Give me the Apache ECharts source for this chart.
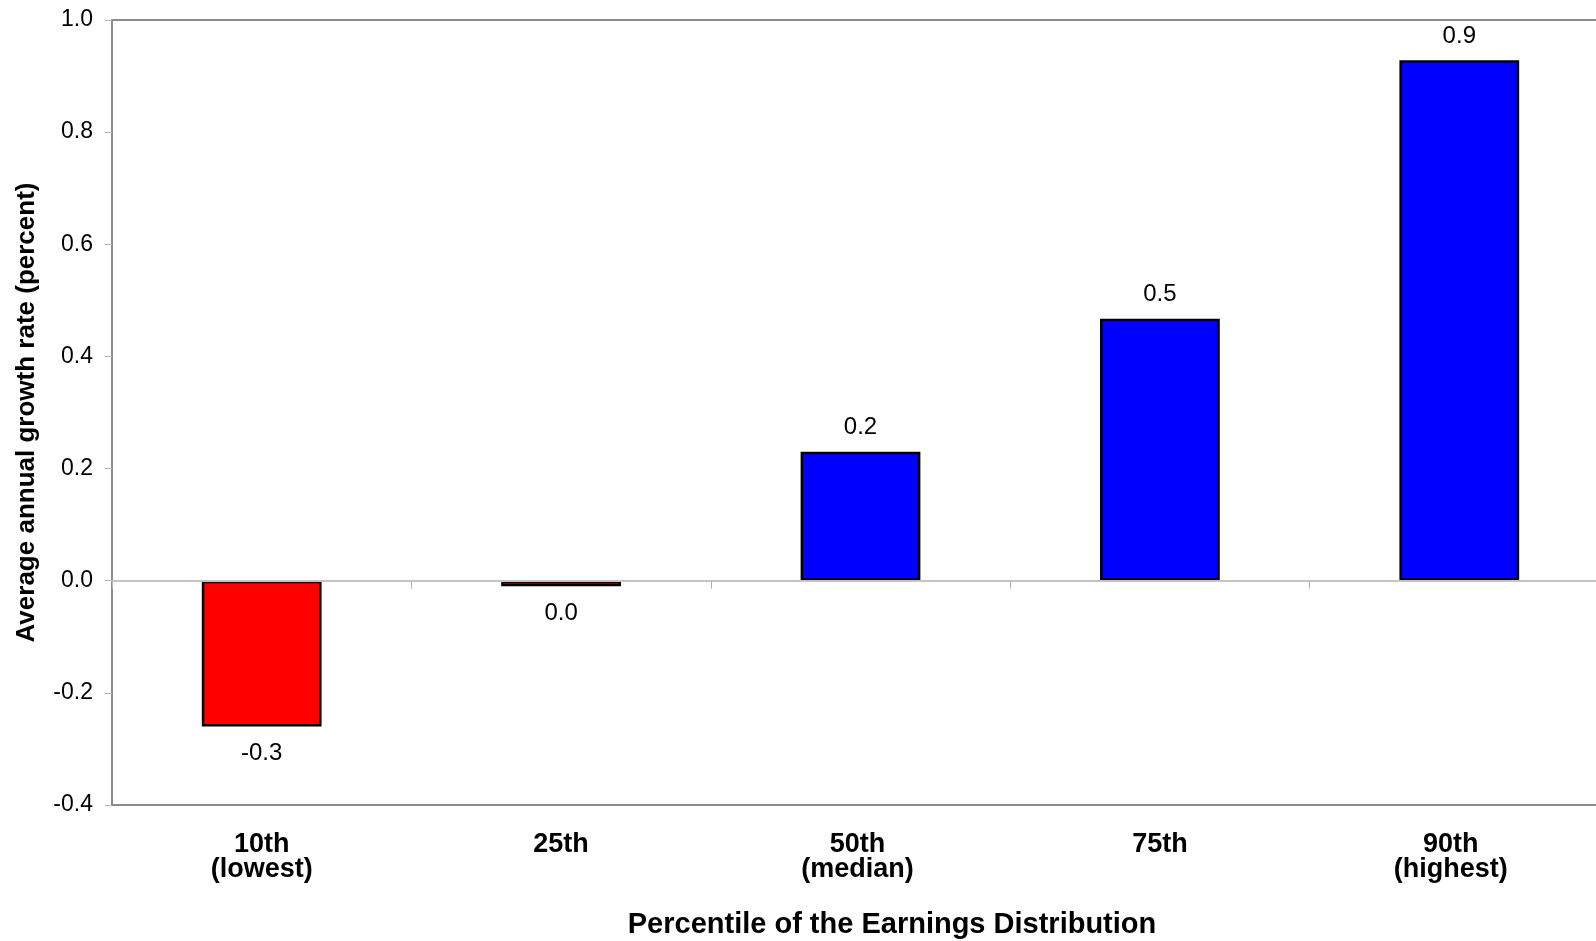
<!DOCTYPE html>
<html>
<head>
<meta charset="utf-8">
<script src="https://cdn.jsdelivr.net/npm/echarts@6/dist/echarts.min.js"></script>
<style>
  html, body { margin: 0; padding: 0; background: #ffffff; }
  #chart { width: 1596px; height: 941px; }
</style>
</head>
<body>
<div id="chart"></div>
<script>
// Average annual earnings growth by percentile
const categories = ['10th\n(lowest)', '25th', '50th\n(median)', '75th', '90th\n(highest)'];
const growthRates = [-0.26, -0.01, 0.23, 0.467, 0.928];
const yTicks = { min: -0.4, max: 1.0, interval: 0.2 };
// small horizontal nudges of the category captions (px, negative = left)
const captionShift = [0, 0, -6, 0, -17];

const FONT = '"Liberation Sans", Arial, Helvetica, sans-serif';

function fmt(v) {
  let s = v.toFixed(1);
  if (s === '-0.0') s = '0.0';
  return s;
}

const chart = echarts.init(document.getElementById('chart'), null, { renderer: 'canvas' });

chart.setOption({
  animation: false,
  backgroundColor: '#ffffff',
  textStyle: { fontFamily: FONT },
  grid: {
    left: 112, top: 20, width: 1497, bottom: 136,
    outerBoundsMode: 'none',
    containLabel: false,
    show: true, borderColor: '#8c8c8c', borderWidth: 2, backgroundColor: 'transparent'
  },
  xAxis: [
    {
      type: 'category',
      data: categories.map((c, i) => ({
        value: c,
        textStyle: { padding: captionShift[i] < 0 ? [0, -captionShift[i], 0, 0] : [0, 0, 0, captionShift[i]] }
      })),
      position: 'bottom',
      axisLine: { show: false, onZero: false },
      axisTick: { show: false },
      axisLabel: {
        interval: 0, margin: 27, color: '#000', fontFamily: FONT,
        fontSize: 27, fontWeight: 'bold', lineHeight: 25
      },
      splitLine: { show: false }
    },
    {
      type: 'category',
      data: categories,
      position: 'bottom',
      z: 5,
      axisLine: { show: true, onZero: true, lineStyle: { color: '#c4c4c4', width: 2 } },
      axisTick: { show: true, interval: 0, length: 8, lineStyle: { color: '#b4b4b4', width: 1 } },
      axisLabel: { show: false },
      splitLine: { show: false }
    }
  ],
  yAxis: {
    type: 'value',
    min: yTicks.min, max: yTicks.max, interval: yTicks.interval,
    name: 'Average annual growth rate (percent)',
    nameLocation: 'middle',
    nameGap: 72,
    nameTextStyle: { color: '#000', fontFamily: FONT, fontSize: 26, fontWeight: 'bold' },
    axisLine: { show: true, lineStyle: { color: '#8c8c8c', width: 2 } },
    axisTick: { show: true, length: 7, lineStyle: { color: '#b4b4b4', width: 1 } },
    axisLabel: {
      margin: 19, color: '#000', fontFamily: FONT, fontSize: 23,
      formatter: v => v.toFixed(1)
    },
    splitLine: { show: false }
  },
  series: [{
    type: 'bar',
    xAxisIndex: 0,
    barWidth: '40%',
    data: growthRates.map(v => ({
      value: v,
      itemStyle: { color: v < 0 ? '#ff0000' : '#0000ff' },
      label: { position: v < 0 ? 'bottom' : 'top', distance: v < 0 ? 15 : 12 }
    })),
    itemStyle: { borderColor: '#000000', borderWidth: 2.5 },
    label: {
      show: true, color: '#000', fontFamily: FONT, fontSize: 24,
      formatter: p => fmt(p.value)
    }
  }],
  graphic: [{
    type: 'text',
    x: 892, y: 925,
    style: {
      text: 'Percentile of the Earnings Distribution',
      fill: '#000', font: 'bold 29px ' + FONT,
      textAlign: 'center', textVerticalAlign: 'middle'
    }
  }]
});
</script>
</body>
</html>
